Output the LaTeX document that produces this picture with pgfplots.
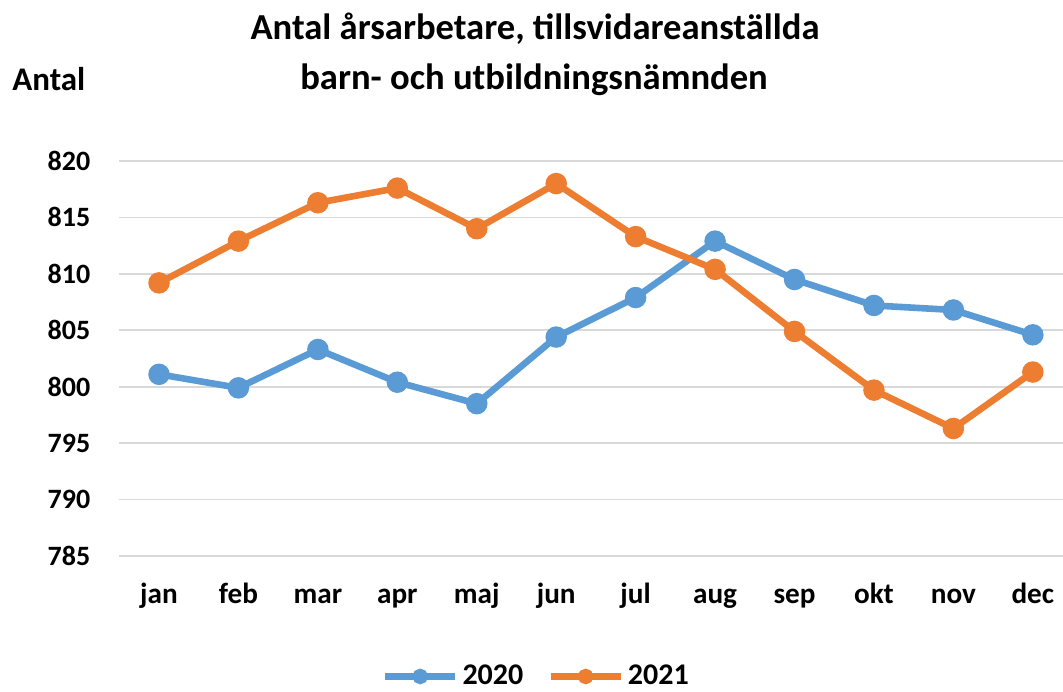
\documentclass[border=0pt]{standalone}
\usepackage{fontspec}
\setmainfont{Carlito}
\usepackage{pgfplots}
\pgfplotsset{compat=1.18}
\definecolor{cblue}{HTML}{5B9BD5}
\definecolor{corange}{HTML}{ED7D31}
\definecolor{cgrid}{HTML}{D9D9D9}
\begin{document}
\begin{tikzpicture}
\useasboundingbox (0,0) rectangle (531.5pt,345.5pt);
\begin{axis}[
  at={(59.65pt,67.5pt)}, anchor=south west,
  scale only axis, width=471.85pt, height=197.5pt,
  xmin=-0.5, xmax=11.38, ymin=785, ymax=820,
  xtick={0,...,11},
  xticklabels={jan,feb,mar,apr,maj,jun,jul,aug,sep,okt,nov,dec},
  ytick={785,790,...,820},
  ymajorgrids, grid style={cgrid, line width=0.8pt},
  axis line style={draw=none},
  major tick length=0pt,
  tick style={draw=none},
  /pgf/number format/assume math mode=true,
  /pgf/number format/1000 sep={},
  ticklabel style={font=\fontsize{14pt}{16pt}\selectfont\bfseries},
  yticklabel style={anchor=east, inner sep=0pt, xshift=-14.3pt},
  xticklabel style={anchor=base, inner sep=0pt, yshift=-23.5pt, font=\fontsize{14.6pt}{16pt}\selectfont\bfseries},
  clip=false,
  legend columns=2,
  legend style={draw=none, fill=none, at={(0.443,-0.305)}, anchor=center,
    font=\fontsize{15pt}{17pt}\selectfont\bfseries,
    /tikz/every even column/.append style={column sep=10pt},
    inner sep=0pt},
  legend image code/.code={\draw[mark repeat=2,mark phase=2,#1,mark size=2.2pt] plot coordinates {(0pt,0pt) (17.5pt,0pt) (35pt,0pt)};},
]
\addplot[cblue, line width=3.3pt, mark=*, mark size=3.7pt, mark options={solid}] coordinates {
 (0,801.1) (1,799.9) (2,803.3) (3,800.4) (4,798.5) (5,804.4)
 (6,807.9) (7,812.9) (8,809.5) (9,807.2) (10,806.8) (11,804.6)};
\addlegendentry{2020}
\addplot[corange, line width=3.3pt, mark=*, mark size=3.7pt, mark options={solid}] coordinates {
 (0,809.2) (1,812.9) (2,816.3) (3,817.6) (4,814.0) (5,818.0)
 (6,813.3) (7,810.4) (8,804.9) (9,799.7) (10,796.3) (11,801.3)};
\addlegendentry{2021}
\end{axis}
\node[anchor=base, inner sep=0pt, font=\fontsize{18.3pt}{21pt}\selectfont\bfseries] at (267.5pt,325.5pt) {Antal årsarbetare, tillsvidareanställda};
\node[anchor=base, inner sep=0pt, font=\fontsize{18.3pt}{21pt}\selectfont\bfseries] at (267pt,300.5pt) {barn- och utbildningsnämnden};
\node[anchor=base west, inner sep=0pt, font=\fontsize{16.5pt}{19pt}\selectfont\bfseries] at (6pt,300pt) {Antal};
\end{tikzpicture}
\end{document}
